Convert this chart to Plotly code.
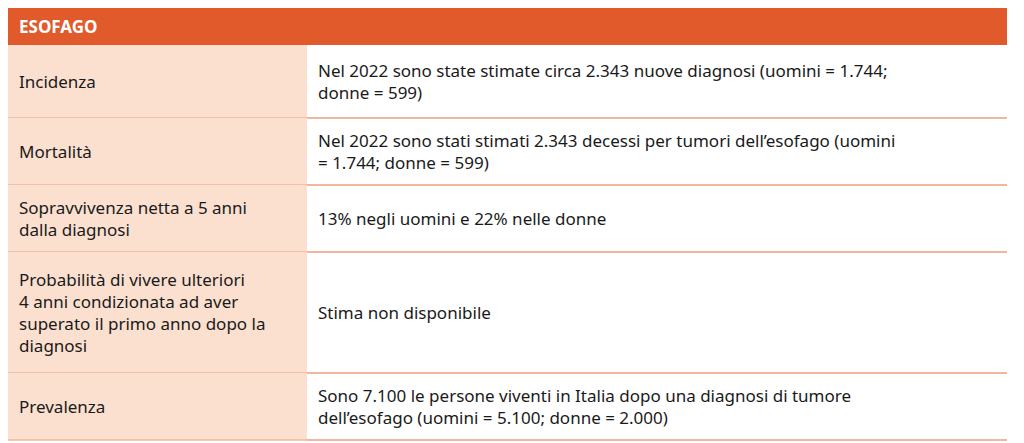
import plotly.graph_objects as go

# Dati della tabella
titolo = "ESOFAGO"
voci = [
    "Incidenza",
    "Mortalità",
    "Sopravvivenza netta a 5 anni<br>dalla diagnosi",
    "Probabilità di vivere ulteriori<br>4 anni condizionata ad aver<br>superato il primo anno dopo la<br>diagnosi",
    "Prevalenza",
]
descrizioni = [
    "Nel 2022 sono state stimate circa 2.343 nuove diagnosi (uomini = 1.744;<br>donne = 599)",
    "Nel 2022 sono stati stimati 2.343 decessi per tumori dell’esofago (uomini<br>= 1.744; donne = 599)",
    "13% negli uomini e 22% nelle donne",
    "Stima non disponibile",
    "Sono 7.100 le persone viventi in Italia dopo una diagnosi di tumore<br>dell’esofago (uomini = 5.100; donne = 2.000)",
]
bordi_righe = [45, 118, 185, 252, 373, 440]

X0, XS, X1 = 5, 307, 1007
ARANCIO = "#e05a2b"
PESCA = "#fbe0d0"
FONT = "Noto Sans"

fig = go.Figure()
shapes = []
ann = []

# Intestazione
shapes.append(dict(type="rect", x0=X0, x1=X1, y0=8, y1=45, fillcolor=ARANCIO, line_width=0))
ann.append(dict(x=17, y=26.5, text="<b>" + titolo + "</b>", showarrow=False, xanchor="left",
                font=dict(color="white", size=17, family=FONT)))

for i, (v, d) in enumerate(zip(voci, descrizioni)):
    y0, y1 = bordi_righe[i], bordi_righe[i + 1]
    shapes.append(dict(type="rect", x0=X0, x1=XS, y0=y0, y1=y1, fillcolor=PESCA, line_width=0))
    # linee di separazione
    shapes.append(dict(type="line", x0=XS, x1=X1, y0=y1, y1=y1, line=dict(color="#e9a07f", width=1.5)))
    shapes.append(dict(type="line", x0=X0, x1=XS, y0=y1, y1=y1, line=dict(color="#f0b898", width=1.5)))
    yc = (y0 + y1) / 2
    ann.append(dict(x=17, y=yc, text=v, showarrow=False, xanchor="left", align="left",
                    font=dict(color="#1a1a1a", size=17, family=FONT)))
    ann.append(dict(x=316, y=yc, text=d, showarrow=False, xanchor="left", align="left",
                    font=dict(color="#1a1a1a", size=17, family=FONT)))

# la pagina ha un margine di 8px: compensiamo negli intervalli degli assi
fig.update_layout(
    width=1024, height=443,
    margin=dict(l=0, r=0, t=0, b=0),
    paper_bgcolor="white", plot_bgcolor="white",
    xaxis=dict(range=[8, 1032], visible=False, fixedrange=True),
    yaxis=dict(range=[451, 8], visible=False, fixedrange=True),
    shapes=shapes, annotations=ann, showlegend=False,
)
fig.write_html("out.html")
